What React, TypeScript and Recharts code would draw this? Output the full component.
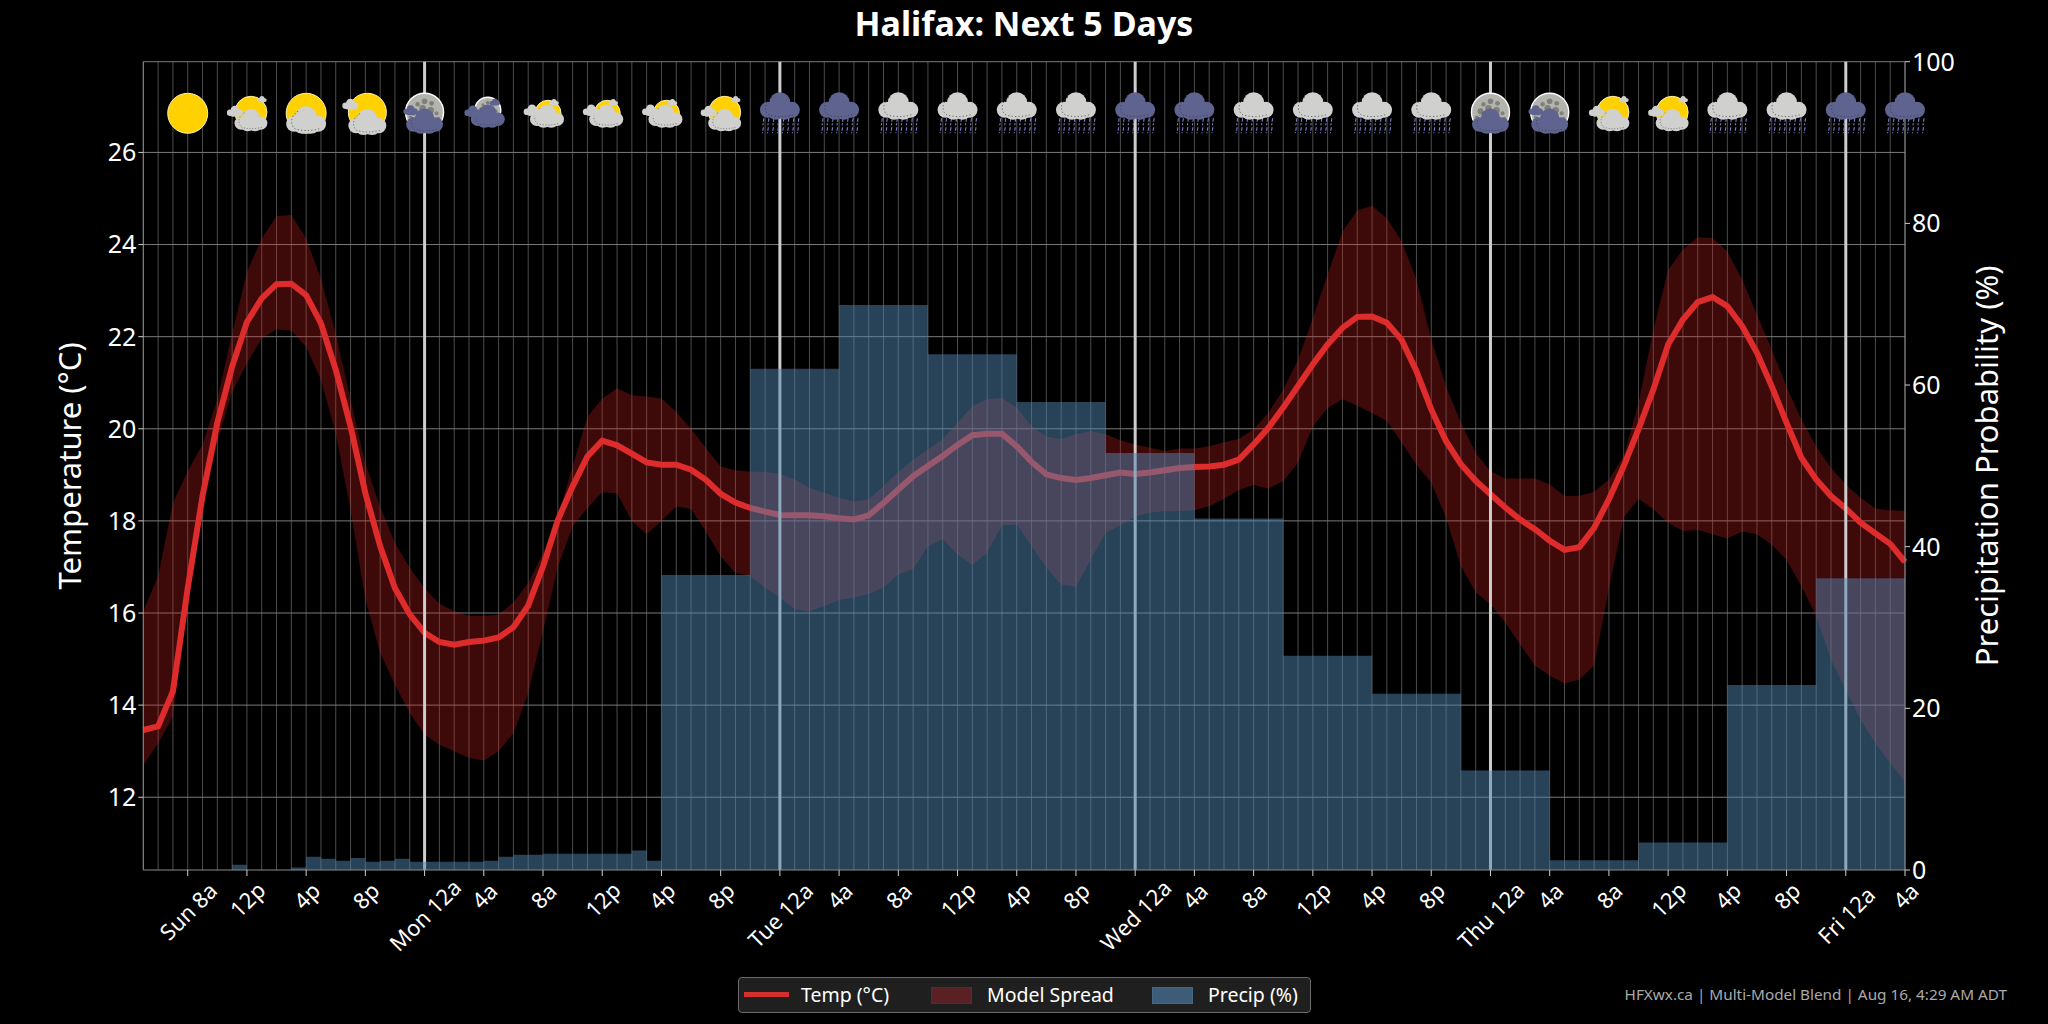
import React from 'react';
import { ComposedChart, Area, Line, XAxis, YAxis, CartesianGrid, ReferenceLine } from 'recharts';

const FONT = '"Noto Sans", sans-serif';

const tempValues = [
  13.46, 13.54, 14.3, 16.54, 18.54, 20.13, 21.35, 22.32, 22.83, 23.14,
  23.15, 22.9, 22.29, 21.28, 20.05, 18.6, 17.45, 16.54, 15.97, 15.57,
  15.37, 15.31, 15.37, 15.4, 15.47, 15.69, 16.16, 17.01, 18.02, 18.75,
  19.4, 19.74, 19.64, 19.46, 19.27, 19.22, 19.22, 19.11, 18.89, 18.59,
  18.4, 18.28, 18.2, 18.13, 18.12, 18.12, 18.1, 18.06, 18.03, 18.12,
  18.39, 18.68, 18.97, 19.19, 19.41, 19.65, 19.86, 19.89, 19.89, 19.62,
  19.28, 19.01, 18.93, 18.89, 18.93, 18.99, 19.05, 19.02, 19.05, 19.1,
  19.15, 19.17, 19.18, 19.22, 19.33, 19.66, 20.02, 20.46, 20.93, 21.4,
  21.83, 22.19, 22.43, 22.44, 22.3, 21.93, 21.25, 20.42, 19.73, 19.23,
  18.87, 18.58, 18.29, 18.03, 17.82, 17.57, 17.37, 17.43, 17.85, 18.47,
  19.19, 19.99, 20.85, 21.83, 22.37, 22.75, 22.86, 22.66, 22.23, 21.65,
  20.92, 20.13, 19.37, 18.9, 18.54, 18.27, 17.96, 17.73, 17.5, 17.11,
];
const spreadHigh = [
  16.04, 16.8, 18.39, 19.08, 19.66, 20.64, 22.07, 23.4, 24.13, 24.62,
  24.64, 24.13, 23.26, 22.07, 20.63, 19.25, 18.3, 17.52, 16.98, 16.54,
  16.2, 16.04, 15.94, 15.94, 15.96, 16.23, 16.65, 17.3, 18.1, 19.18,
  20.26, 20.65, 20.88, 20.73, 20.7, 20.66, 20.37, 20.0, 19.58, 19.18,
  19.1, 19.07, 19.06, 19.02, 18.9, 18.72, 18.61, 18.5, 18.42, 18.47,
  18.76, 19.06, 19.33, 19.55, 19.77, 20.13, 20.49, 20.64, 20.67, 20.46,
  20.06, 19.83, 19.77, 19.88, 19.95, 19.88, 19.75, 19.66, 19.59, 19.52,
  19.57, 19.57, 19.62, 19.71, 19.78, 19.99, 20.35, 20.85, 21.5, 22.4,
  23.35, 24.28, 24.74, 24.84, 24.57, 24.07, 23.24, 21.94, 20.92, 20.13,
  19.48, 19.08, 18.92, 18.92, 18.92, 18.79, 18.54, 18.54, 18.63, 18.9,
  19.41, 20.56, 22.15, 23.45, 23.89, 24.16, 24.14, 23.85, 23.24, 22.48,
  21.72, 20.92, 20.2, 19.62, 19.15, 18.79, 18.5, 18.27, 18.23, 18.22,
];
const spreadLow = [
  12.7, 13.17, 13.75, 16.2, 18.3, 19.7, 20.8, 21.42, 21.96, 22.16,
  22.13, 21.78, 21.06, 19.9, 18.24, 16.3, 15.13, 14.44, 13.83, 13.36,
  13.14, 13.0, 12.85, 12.8, 13.0, 13.39, 14.26, 15.6, 17.0, 17.88,
  18.28, 18.62, 18.6, 18.0, 17.71, 18.0, 18.31, 18.26, 17.77, 17.23,
  16.87, 16.8, 16.55, 16.33, 16.08, 16.03, 16.15, 16.28, 16.33, 16.41,
  16.55, 16.84, 16.95, 17.45, 17.6, 17.27, 17.04, 17.31, 17.9, 17.92,
  17.45, 16.98, 16.62, 16.57, 17.16, 17.74, 17.9, 18.09, 18.18, 18.21,
  18.21, 18.23, 18.32, 18.48, 18.67, 18.78, 18.7, 18.86, 19.26, 20.05,
  20.45, 20.64, 20.5, 20.34, 20.17, 19.7, 19.22, 18.83, 18.07, 17.02,
  16.45, 16.19, 15.79, 15.32, 14.86, 14.64, 14.47, 14.55, 14.86, 16.52,
  18.07, 18.48, 18.25, 17.96, 17.78, 17.8, 17.71, 17.62, 17.77, 17.71,
  17.49, 17.15, 16.58, 15.93, 14.99, 14.33, 13.68, 13.17, 12.74, 12.34,
];
const precipValues = [
  0, 0, 0, 0, 0, 0, 0.66, 0, 0, 0,
  0.3, 1.65, 1.4, 1.15, 1.5, 1.03, 1.15, 1.4, 1.03, 1.03,
  1.03, 1.03, 1.03, 1.15, 1.65, 1.9, 1.9, 2.02, 2.02, 2.02,
  2.02, 2.02, 2.02, 2.4, 1.15, 36.5, 36.5, 36.5, 36.5, 36.5,
  36.5, 62, 62, 62, 62, 62, 62, 69.9, 69.9, 69.9,
  69.9, 69.9, 69.9, 63.8, 63.8, 63.8, 63.8, 63.8, 63.8, 57.9,
  57.9, 57.9, 57.9, 57.9, 57.9, 51.6, 51.6, 51.6, 51.6, 51.6,
  51.6, 43.5, 43.5, 43.5, 43.5, 43.5, 43.5, 26.5, 26.5, 26.5,
  26.5, 26.5, 26.5, 21.8, 21.8, 21.8, 21.8, 21.8, 21.8, 12.3,
  12.3, 12.3, 12.3, 12.3, 12.3, 1.2, 1.2, 1.2, 1.2, 1.2,
  1.2, 3.4, 3.4, 3.4, 3.4, 3.4, 3.4, 22.9, 22.9, 22.9,
  22.9, 22.9, 22.9, 36.1, 36.1, 36.1, 36.1, 36.1, 36.1, 36.1,
];

const tickHours = [3, 7, 11, 15, 19, 23, 27, 31, 35, 39, 43, 47, 51, 55, 59, 63, 67, 71, 75, 79, 83, 87, 91, 95, 99, 103, 107, 111, 115, 119];
const tickLabels = [
  'Sun 8a', '12p', '4p', '8p', 'Mon 12a', '4a', '8a', '12p', '4p', '8p',
  'Tue 12a', '4a', '8a', '12p', '4p', '8p', 'Wed 12a', '4a', '8a', '12p',
  '4p', '8p', 'Thu 12a', '4a', '8a', '12p', '4p', '8p', 'Fri 12a', '4a',
];
const iconKinds = [
  'sun', 'partly', 'partlyFull', 'partlyBig', 'moonSide', 'moonSmall', 'sunSmall', 'sunSmall', 'sunSmall', 'partly',
  'darkRain', 'darkRain', 'grayRain', 'grayRain', 'grayRain', 'grayRain', 'darkRain', 'darkRain', 'grayRain', 'grayRain',
  'grayRain', 'grayRain', 'moon', 'moonSide', 'partly', 'partly', 'grayRain', 'grayRain', 'darkRain', 'darkRain',
];
const dayLines = [19, 43, 67, 91, 115];
const tempTicks = [12, 14, 16, 18, 20, 22, 24, 26];
const precipTicks = [0, 20, 40, 60, 80, 100];
const TEMP_MIN = 10.42;
const TEMP_MAX = 27.97;
const ICON_LEVEL = 26.85;

const allHours = tempValues.map((_, i) => i);
const chartData = tempValues.map((t, i) => {
  const iconIndex = tickHours.indexOf(i);
  return {
    h: i,
    temp: t,
    spread: [spreadLow[i], spreadHigh[i]],
    precip: precipValues[i],
    iconY: iconIndex >= 0 ? ICON_LEVEL : null,
    icon: iconIndex >= 0 ? iconKinds[iconIndex] : null,
  };
});

const GRAY_CLOUD = '#d0d0ce';
const DARK_CLOUD = '#5f638f';
const SUN = '#ffd100';

function Cloud({ x, y, s, fill, detail = true }: any) {
  return (
    <g transform={`translate(${x} ${y}) scale(${s})`}>
      <circle cx={0} cy={-3.5} r={10.5} fill={fill} />
      <circle cx={-12} cy={3.5} r={8} fill={fill} />
      <circle cx={12} cy={3.5} r={8} fill={fill} />
      <circle cx={-4} cy={4} r={9.5} fill={fill} />
      <circle cx={5} cy={4} r={9.5} fill={fill} />
      {detail && (
        <path
          d="M-8 -9 C-14 -6 -17 2 -12 8 C-6 11 6 11 15 8"
          fill="none"
          stroke="#333"
          strokeOpacity={0.75}
          strokeWidth={0.9}
          strokeDasharray="1.2 2.2"
        />
      )}
    </g>
  );
}

function SunDisc({ x, y, r }: any) {
  return <circle cx={x} cy={y} r={r} fill={SUN} stroke="#fff2a8" strokeWidth={1} />;
}

const craters = [
  [0, -11, 2.8], [-7, -8, 2.2], [7, -9, 2.4], [-10, -1, 3], [-2, -4, 3.2], [6, -2, 3.4], [12, 1, 2], [-14, 5, 1.8], [14, 6, 1.6],
];
function MoonDisc({ x, y, r }: any) {
  const k = r / 19;
  return (
    <g>
      <circle cx={x} cy={y} r={r} fill="#b4b4ae" stroke="#ffffff" strokeWidth={1.4} />
      {craters.map((c, i) => (
        <circle key={i} cx={x + c[0] * k} cy={y + c[1] * k} r={c[2] * k} fill="#7f7f7b" />
      ))}
    </g>
  );
}

function Rain() {
  const marks: any[] = [];
  [-17, -12, -7, -2, 3, 8, 13, 18].forEach((dx, i) => {
    marks.push(<line key={`a${i}`} x1={dx + 1} y1={5} x2={dx} y2={12} />);
    marks.push(<line key={`b${i}`} x1={dx + 0.5} y1={14} x2={dx - 0.5} y2={20} />);
  });
  return <g stroke="#8080d0" strokeWidth={1.1} strokeDasharray="3.5 1.5">{marks}</g>;
}

function WeatherIcon({ kind, cx, cy }: any) {
  let body: any = null;
  if (kind === 'sun') body = <SunDisc x={0} y={0} r={20} />;
  if (kind === 'partlyFull') {
    body = (
      <>
        <SunDisc x={0} y={0} r={20} />
        <Cloud x={0} y={7} s={1} fill={GRAY_CLOUD} />
      </>
    );
  }
  if (kind === 'partly' || kind === 'partlyBig') {
    const big = kind === 'partlyBig';
    body = (
      <>
        <SunDisc x={big ? 2 : 4} y={-1} r={big ? 19 : 16} />
        <Cloud x={big ? 2 : 4} y={big ? 9 : 7} s={big ? 0.95 : 0.82} fill={GRAY_CLOUD} />
        <Cloud x={big ? -15 : -12} y={big ? -9 : -2} s={0.4} fill={GRAY_CLOUD} detail={false} />
        {!big && <Cloud x={15} y={-14} s={0.24} fill={GRAY_CLOUD} detail={false} />}
      </>
    );
  }
  if (kind === 'sunSmall') {
    body = (
      <>
        <SunDisc x={5} y={0} r={13} />
        <Cloud x={4} y={3} s={0.85} fill={GRAY_CLOUD} />
        <Cloud x={-11} y={-3} s={0.42} fill={GRAY_CLOUD} detail={false} />
        <Cloud x={11} y={-11} s={0.24} fill={GRAY_CLOUD} detail={false} />
      </>
    );
  }
  if (kind === 'moon' || kind === 'moonSide') {
    body = (
      <>
        <MoonDisc x={0} y={-1} r={19} />
        <Cloud x={0} y={8} s={0.92} fill={DARK_CLOUD} />
        {kind === 'moonSide' && <Cloud x={-14} y={-3} s={0.36} fill={DARK_CLOUD} detail={false} />}
      </>
    );
  }
  if (kind === 'moonSmall') {
    body = (
      <>
        <MoonDisc x={4} y={-3} r={13} />
        <Cloud x={4} y={3} s={0.85} fill={DARK_CLOUD} />
        <Cloud x={-11} y={-2} s={0.42} fill={DARK_CLOUD} detail={false} />
        <Cloud x={11} y={-11} s={0.26} fill={DARK_CLOUD} detail={false} />
      </>
    );
  }
  if (kind === 'grayRain' || kind === 'darkRain') {
    body = (
      <>
        <Rain />
        <Cloud x={0} y={-7} s={1} fill={kind === 'grayRain' ? GRAY_CLOUD : DARK_CLOUD} />
      </>
    );
  }
  return <g transform={`translate(${cx} ${cy})`}>{body}</g>;
}

function IconDot(props: any) {
  const { cx, cy, payload, index } = props;
  if (!payload || !payload.icon || cy == null) return <g key={index} />;
  return <WeatherIcon key={index} kind={payload.icon} cx={cx} cy={cy} />;
}

function HourTick(props: any) {
  const { x, y, payload } = props;
  const label = tickLabels[tickHours.indexOf(payload.value)] ?? '';
  const half = ((label.length * 11 + 18) * 0.7071) / 2;
  const cy = y + 3 + half;
  return (
    <text
      x={x}
      y={cy}
      fill="#ffffff"
      fontSize={22}
      fontFamily={FONT}
      textAnchor="middle"
      dominantBaseline="central"
      transform={`rotate(-45 ${x} ${cy})`}
    >
      {label}
    </text>
  );
}

const tickStyle = { fill: '#ffffff', fontSize: 25, fontFamily: FONT };

export default function App() {
  return (
    <div style={{ position: 'absolute', left: 0, top: 0, width: 2048, height: 1024, background: '#000', overflow: 'hidden', fontFamily: FONT }}>
      <div style={{ position: 'absolute', left: 0, width: 2048, top: 1, textAlign: 'center', color: '#fff', fontSize: 34, fontWeight: 700, lineHeight: '44px' }}>
        Halifax: Next 5 Days
      </div>
      <ComposedChart
        width={2048}
        height={1024}
        data={chartData}
        margin={{ top: 61.7, left: 43.3, right: 23, bottom: 94 }}
        style={{ position: 'absolute', left: 0, top: 0 }}
      >
        <CartesianGrid horizontal={false} vertical verticalValues={allHours} stroke="#4c4c4c" strokeWidth={1} xAxisId="x" yAxisId="temp" />
        <CartesianGrid horizontal vertical={false} horizontalValues={[...tempTicks, TEMP_MAX]} stroke="#7a7a7a" strokeWidth={1} xAxisId="x" yAxisId="temp" />
        <XAxis
          xAxisId="x"
          dataKey="h"
          type="number"
          domain={[0, 119]}
          ticks={tickHours}
          interval={0}
          height={60}
          tick={HourTick}
          tickSize={6}
          tickLine={{ stroke: '#cfcfcf' }}
          axisLine={{ stroke: '#8a8a8a' }}
        />
        <YAxis
          yAxisId="temp"
          orientation="left"
          type="number"
          width={100}
          domain={[TEMP_MIN, TEMP_MAX]}
          ticks={tempTicks}
          interval={0}
          tick={tickStyle}
          tickSize={5}
          tickLine={{ stroke: '#cfcfcf' }}
          axisLine={{ stroke: '#8a8a8a' }}
          label={{ value: 'Temperature (°C)', angle: -90, position: 'insideLeft', offset: 27, style: { textAnchor: 'middle', fill: '#fff', fontSize: 31, fontFamily: FONT } }}
        />
        <YAxis
          yAxisId="precip"
          orientation="right"
          type="number"
          width={120}
          domain={[0, 100]}
          ticks={precipTicks}
          interval={0}
          tick={tickStyle}
          tickSize={5}
          tickLine={{ stroke: '#cfcfcf' }}
          axisLine={{ stroke: '#8a8a8a' }}
          label={{ value: 'Precipitation Probability (%)', angle: -90, position: 'insideRight', offset: 38, style: { textAnchor: 'middle', fill: '#fff', fontSize: 31, fontFamily: FONT } }}
        />
        <Area
          xAxisId="x"
          yAxisId="temp"
          dataKey="spread"
          type="linear"
          stroke="none"
          fill="#d62020"
          fillOpacity={0.29}
          isAnimationActive={false}
          dot={false}
          activeDot={false}
        />
        <Line
          xAxisId="x"
          yAxisId="temp"
          dataKey="temp"
          type="linear"
          stroke="#de2c2c"
          strokeWidth={6}
          dot={false}
          activeDot={false}
          isAnimationActive={false}
          zIndex={150}
        />
        {dayLines.map((h) => (
          <ReferenceLine key={h} xAxisId="x" yAxisId="temp" x={h} stroke="#cdcdcd" strokeWidth={3} zIndex={160} />
        ))}
        <Area
          xAxisId="x"
          yAxisId="precip"
          dataKey="precip"
          type="stepAfter"
          stroke="none"
          fill="#5084b0"
          fillOpacity={0.5}
          isAnimationActive={false}
          dot={false}
          activeDot={false}
          zIndex={170}
        />
        <Line
          xAxisId="x"
          yAxisId="temp"
          dataKey="iconY"
          stroke="none"
          dot={IconDot}
          activeDot={false}
          connectNulls
          isAnimationActive={false}
          zIndex={180}
        />
      </ComposedChart>
      <div style={{ position: 'absolute', left: 738, top: 977, width: 573, height: 36, boxSizing: 'border-box', background: '#1f1f1f', border: '1px solid #6a6a6a', borderRadius: 4, color: '#fff', fontSize: 19.5 }}>
        <span style={{ position: 'absolute', left: 5, top: 14, width: 45, height: 5, background: '#d32f2f' }} />
        <span style={{ position: 'absolute', left: 62, top: 3, lineHeight: '28px', whiteSpace: 'nowrap' }}>Temp (°C)</span>
        <span style={{ position: 'absolute', left: 192, top: 9, width: 41, height: 17, background: '#5a2125', border: '1px solid #64252a', boxSizing: 'border-box' }} />
        <span style={{ position: 'absolute', left: 248, top: 3, lineHeight: '28px', whiteSpace: 'nowrap' }}>Model Spread</span>
        <span style={{ position: 'absolute', left: 413, top: 9, width: 41, height: 17, background: '#3d5c78', border: '1px solid #456684', boxSizing: 'border-box' }} />
        <span style={{ position: 'absolute', left: 469, top: 3, lineHeight: '28px', whiteSpace: 'nowrap' }}>Precip (%)</span>
      </div>
      <div style={{ position: 'absolute', right: 41, top: 983, color: '#aaaaaa', fontSize: 15.3, lineHeight: '22px', whiteSpace: 'nowrap' }}>
        HFXwx.ca | Multi-Model Blend | Aug 16, 4:29 AM ADT
      </div>
    </div>
  );
}
